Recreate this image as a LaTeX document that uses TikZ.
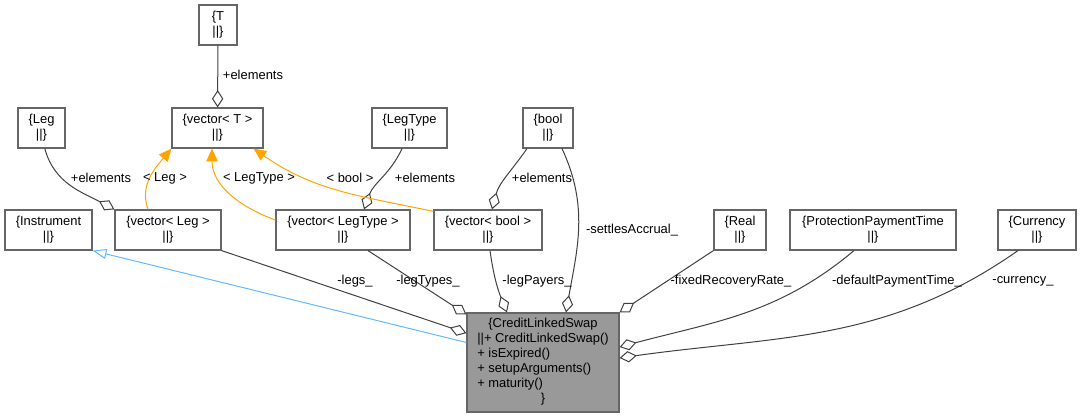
\documentclass[tikz,border=0pt]{standalone}
\usepackage{fontspec}
\setmainfont{Liberation Sans}
\usetikzlibrary{positioning,arrows.meta}

\definecolor{boxline}{HTML}{666666}
\definecolor{edgegray}{HTML}{404040}
\definecolor{clsfill}{HTML}{999999}
\definecolor{tmplorange}{HTML}{FFA500}
\definecolor{inhblue}{HTML}{63B8FF}

\begin{document}
\begin{tikzpicture}[
x=0.75pt, y=-0.75pt,
every node/.style={font=\fontsize{9.7}{11.25}\selectfont},
box/.style={draw=boxline, line width=0.9pt, fill=white, align=center,
inner sep=1pt, minimum height=30pt},
agg/.style={draw=edgegray, line width=0.75pt,
-{Diamond[open, length=13pt, width=8.5pt]}},
tmpl/.style={draw=tmplorange, line width=0.75pt,
-{Triangle[length=9.5pt, width=8.5pt]}},
inh/.style={draw=inhblue, line width=0.75pt,
-{Triangle[open, length=10.5pt, width=7.5pt]}},
lbl/.style={inner sep=0pt}
]
\useasboundingbox (0,0) rectangle (1083,417);

% classes
\node[box, minimum width=28.5pt] (T) at (218,25) {\{T\\||\}};
\node[box, minimum width=68.25pt] (vecT) at (217.5,128) {\{vector< T >\\||\}};
\node[box, minimum width=35.25pt] (Leg) at (41.5,128) {\{Leg\\||\}};
\node[box, minimum width=56.25pt] (LegType) at (409.5,128) {\{LegType\\||\}};
\node[box, minimum width=37.5pt] (bool) at (548,128) {\{bool\\||\}};
\node[box, minimum width=65.25pt] (Instrument) at (48.5,230) {\{Instrument\\||\}};
\node[box, minimum width=79.5pt] (vecLeg) at (168,230) {\{vector< Leg >\\||\}};
\node[box, minimum width=100.5pt] (vecLegType) at (343,230) {\{vector< LegType >\\||\}};
\node[box, minimum width=81pt] (vecBool) at (488,230) {\{vector< bool >\\||\}};
\node[box, minimum width=39pt] (Real) at (740,230) {\{Real\\||\}};
\node[box, minimum width=124.5pt] (PPT) at (873,230) {\{ProtectionPaymentTime\\||\}};
\node[box, minimum width=58.5pt] (Currency) at (1037,230) {\{Currency\\||\}};

\node[box, fill=clsfill, minimum width=114pt, minimum height=74.25pt] (CLS) at (543,362.5)
{\begin{tabular}{@{}l@{}}
\multicolumn{1}{@{}c@{}}{\{CreditLinkedSwap}\\
||+ CreditLinkedSwap()\\
+ isExpired()\\
+ setupArguments()\\
+ maturity()\\
\multicolumn{1}{@{}c@{}}{\}}
\end{tabular}};

% members
\draw[agg] (T) -- (vecT);
\draw[agg] ([xshift=2.5pt]Leg.south) to[out=-75,in=152] (vecLeg.north west);
\draw[agg] ([xshift=-5.6pt]LegType.south) to[out=-115,in=70] ([xshift=15.75pt]vecLegType.north);
\draw[agg] ([xshift=-15.75pt]bool.south) to[out=-125,in=75] ([xshift=3pt]vecBool.north);
\draw[agg] ([xshift=10.5pt]bool.south) to[out=-65,in=80] ([xshift=17.25pt]CLS.north);
\draw[agg] (vecLeg.south east) -- ([yshift=22pt]CLS.west);
\draw[agg] ([xshift=18.75pt]vecLegType.south) -- ([yshift=-1.5pt]CLS.north west);
\draw[agg] ([xshift=1.5pt]vecBool.south) to[out=-82,in=112] ([xshift=-27pt]CLS.north);
\draw[agg] (Real.south west) -- (CLS.north east);
\draw[agg] ([xshift=-14.25pt]PPT.south) to[out=-140,in=15] ([yshift=11.6pt]CLS.east);
\draw[agg] ([xshift=-14.25pt]Currency.south) to[out=-145,in=8] ([yshift=3.4pt]CLS.east);

% template instances
\draw[tmpl] ([xshift=-15pt]vecLeg.north) to[out=110,in=-130] (vecT.south west);
\draw[tmpl] ([yshift=7.5pt]vecLegType.west) to[out=160,in=-90] ([xshift=-4.1pt]vecT.south);
\draw[tmpl] ([yshift=-1.5pt]vecBool.north west) to[out=168,in=-35] ([xshift=-7.5pt]vecT.south east);

% base class
\draw[inh] ([yshift=15pt]CLS.west) -- (Instrument.south east);

% labels
\node[lbl] (lT) at (253,75) {+elements};
\node[lbl] (lLeg) at (101,178) {+elements};
\node[lbl] (lvLeg) at (165,178) {< Leg >};
\node[lbl] (lvLegType) at (259,178) {< LegType >};
\node[lbl] (lvBool) at (350,178) {< bool >};
\node[lbl] (lLegType) at (425,178) {+elements};
\node[lbl] (lBool) at (542,178) {+elements};
\node[lbl] (lSettles) at (632,230) {-settlesAccrual\_};
\node[lbl] (lLegs) at (355,281) {-legs\_};
\node[lbl] (lLegTypes) at (428,281) {-legTypes\_};
\node[lbl] (lLegPayers) at (537,281) {-legPayers\_};
\node[lbl] (lRecovery) at (731,281) {-fixedRecoveryRate\_};
\node[lbl] (lPayTime) at (897,281) {-defaultPaymentTime\_};
\node[lbl] (lCurrency) at (1023,281) {-currency\_};

\end{tikzpicture}
\end{document}
